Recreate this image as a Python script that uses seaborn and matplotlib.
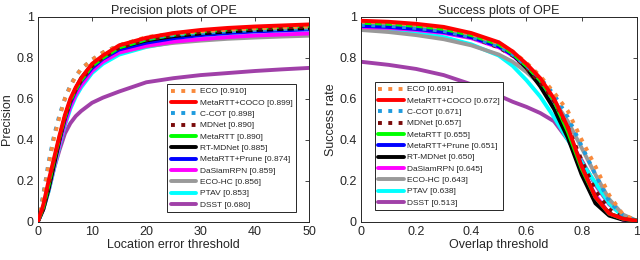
import numpy as np
import pandas as pd
import matplotlib
matplotlib.use('Agg')
import matplotlib.pyplot as plt
import seaborn as sns
from matplotlib.ticker import FormatStrFormatter

sns.set_style('white')
plt.rcParams['font.family'] = ['Liberation Sans', 'DejaVu Sans']

# precision plot
prec_names = ['ECO', 'MetaRTT+COCO', 'C-COT', 'MDNet', 'MetaRTT', 'RT-MDNet',
              'MetaRTT+Prune', 'DaSiamRPN', 'ECO-HC', 'PTAV', 'DSST']
prec_scores = [0.910, 0.899, 0.898, 0.890, 0.890, 0.885, 0.874, 0.859, 0.856, 0.853, 0.680]
prec_thr = [0, 1, 2, 3, 4, 5, 6, 7, 8, 10, 12, 15, 20, 25, 30, 35, 40, 45, 50]
prec_vals = {
    'ECO':           [0, 0.12, 0.28, 0.41, 0.51, 0.60, 0.66, 0.71, 0.745, 0.79, 0.825, 0.86, 0.90, 0.918, 0.928, 0.936, 0.942, 0.947, 0.951],
    'MetaRTT+COCO':  [0, 0.08, 0.20, 0.31, 0.42, 0.52, 0.60, 0.655, 0.70, 0.77, 0.81, 0.86, 0.897, 0.92, 0.935, 0.945, 0.952, 0.957, 0.962],
    'C-COT':         [0, 0.13, 0.29, 0.42, 0.52, 0.60, 0.665, 0.71, 0.745, 0.79, 0.825, 0.86, 0.895, 0.91, 0.92, 0.928, 0.934, 0.939, 0.943],
    'MDNet':         [0, 0.07, 0.18, 0.30, 0.41, 0.51, 0.59, 0.645, 0.69, 0.76, 0.80, 0.848, 0.888, 0.91, 0.925, 0.935, 0.942, 0.947, 0.952],
    'MetaRTT':       [0, 0.07, 0.18, 0.30, 0.41, 0.51, 0.59, 0.645, 0.69, 0.76, 0.80, 0.85, 0.889, 0.912, 0.927, 0.937, 0.944, 0.95, 0.955],
    'RT-MDNet':      [0, 0.06, 0.16, 0.28, 0.40, 0.51, 0.59, 0.65, 0.70, 0.765, 0.805, 0.85, 0.884, 0.905, 0.918, 0.928, 0.935, 0.94, 0.945],
    'MetaRTT+Prune': [0, 0.07, 0.17, 0.29, 0.40, 0.50, 0.58, 0.64, 0.685, 0.75, 0.795, 0.84, 0.873, 0.895, 0.91, 0.92, 0.928, 0.933, 0.938],
    'DaSiamRPN':     [0, 0.06, 0.16, 0.27, 0.38, 0.48, 0.56, 0.62, 0.665, 0.735, 0.78, 0.825, 0.858, 0.878, 0.89, 0.90, 0.908, 0.913, 0.918],
    'ECO-HC':        [0, 0.07, 0.18, 0.29, 0.40, 0.50, 0.58, 0.64, 0.685, 0.745, 0.785, 0.825, 0.855, 0.872, 0.883, 0.892, 0.898, 0.903, 0.907],
    'PTAV':          [0, 0.06, 0.15, 0.26, 0.37, 0.47, 0.55, 0.61, 0.655, 0.725, 0.77, 0.815, 0.852, 0.875, 0.89, 0.90, 0.907, 0.912, 0.916],
    'DSST':          [0, 0.06, 0.15, 0.26, 0.35, 0.43, 0.48, 0.515, 0.54, 0.58, 0.605, 0.635, 0.68, 0.70, 0.715, 0.725, 0.735, 0.743, 0.75],
}

# success plot
succ_names = ['ECO', 'MetaRTT+COCO', 'C-COT', 'MDNet', 'MetaRTT', 'MetaRTT+Prune',
              'RT-MDNet', 'DaSiamRPN', 'ECO-HC', 'PTAV', 'DSST']
succ_scores = [0.691, 0.672, 0.671, 0.657, 0.655, 0.651, 0.650, 0.645, 0.643, 0.638, 0.513]
succ_thr = [0, 0.1, 0.2, 0.3, 0.4, 0.5, 0.55, 0.6, 0.65, 0.7, 0.75, 0.8, 0.85, 0.9, 0.95, 1.0]
succ_vals = {
    'ECO':           [0.975, 0.97, 0.96, 0.945, 0.915, 0.87, 0.83, 0.775, 0.71, 0.63, 0.54, 0.40, 0.27, 0.13, 0.035, 0.005],
    'MetaRTT+COCO':  [0.98, 0.975, 0.965, 0.95, 0.92, 0.875, 0.83, 0.77, 0.70, 0.60, 0.46, 0.27, 0.12, 0.04, 0.015, 0.005],
    'C-COT':         [0.96, 0.955, 0.945, 0.93, 0.90, 0.855, 0.815, 0.76, 0.70, 0.62, 0.51, 0.37, 0.23, 0.10, 0.03, 0.005],
    'MDNet':         [0.965, 0.96, 0.95, 0.93, 0.90, 0.85, 0.81, 0.75, 0.68, 0.59, 0.46, 0.30, 0.15, 0.06, 0.02, 0.005],
    'MetaRTT':       [0.97, 0.965, 0.955, 0.94, 0.91, 0.865, 0.82, 0.76, 0.69, 0.59, 0.44, 0.26, 0.12, 0.04, 0.015, 0.005],
    'MetaRTT+Prune': [0.955, 0.95, 0.94, 0.925, 0.90, 0.855, 0.815, 0.76, 0.69, 0.59, 0.45, 0.27, 0.12, 0.04, 0.015, 0.005],
    'RT-MDNet':      [0.96, 0.955, 0.945, 0.93, 0.905, 0.86, 0.815, 0.75, 0.66, 0.55, 0.41, 0.23, 0.09, 0.03, 0.01, 0.005],
    'DaSiamRPN':     [0.95, 0.945, 0.935, 0.92, 0.895, 0.85, 0.81, 0.755, 0.68, 0.58, 0.43, 0.25, 0.13, 0.04, 0.01, 0.003],
    'ECO-HC':        [0.935, 0.925, 0.91, 0.89, 0.86, 0.815, 0.78, 0.73, 0.67, 0.59, 0.49, 0.36, 0.23, 0.11, 0.035, 0.005],
    'PTAV':          [0.95, 0.94, 0.925, 0.90, 0.865, 0.81, 0.76, 0.69, 0.61, 0.51, 0.40, 0.29, 0.19, 0.09, 0.025, 0.005],
    'DSST':          [0.78, 0.765, 0.745, 0.715, 0.67, 0.615, 0.585, 0.56, 0.53, 0.49, 0.40, 0.30, 0.18, 0.085, 0.03, 0.003],
}

colors = {
    'ECO': '#F98A3C', 'MetaRTT+COCO': '#FF0000', 'C-COT': '#1E9BDE', 'MDNet': '#7A0A0A',
    'MetaRTT': '#00FF00', 'RT-MDNet': '#000000', 'MetaRTT+Prune': '#0000FF',
    'DaSiamRPN': '#FF00FF', 'ECO-HC': '#999999', 'PTAV': '#00FFFF', 'DSST': '#A040A8',
}
dotted = ['ECO', 'C-COT', 'MDNet']


def draw(ax, thr, vals, names, scores):
    handles = {}
    for name in names[::-1]:
        df = pd.DataFrame({'x': thr, 'y': vals[name]})
        z = 3 if name == 'MetaRTT+COCO' else 2
        sns.lineplot(data=df, x='x', y='y', ax=ax, color=colors[name], lw=2.8,
                     linestyle=':' if name in dotted else '-', zorder=z)
        handles[name] = ax.lines[-1]
    h = [handles[n] for n in names]
    lab = [f'{n} [{s:.3f}]' for n, s in zip(names, scores)]
    return h, lab


legend_kw = dict(loc='lower left', fontsize=6, labelspacing=0.42, handlelength=3.1,
                 handletextpad=0.4, borderpad=0.4, borderaxespad=0, fancybox=False,
                 framealpha=1)

fig, (ax1, ax2) = plt.subplots(1, 2, figsize=(6.4, 2.6), dpi=100)
ax1.set_position([0.059, 0.147, 0.424, 0.789])
ax2.set_position([0.564, 0.147, 0.431, 0.789])

h, lab = draw(ax1, prec_thr, prec_vals, prec_names, prec_scores)
ax1.set_xlim(0, 50)
ax1.set_xticks([0, 10, 20, 30, 40, 50])
ax1.set_title('Precision plots of OPE', fontsize=9, pad=2)
ax1.set_xlabel('Location error threshold', fontsize=9, labelpad=1)
ax1.set_ylabel('Precision', fontsize=9, labelpad=2)
leg1 = ax1.legend(h, lab, bbox_to_anchor=(0.477, 0.047), **legend_kw)

h, lab = draw(ax2, succ_thr, succ_vals, succ_names, succ_scores)
ax2.set_xlim(0, 1)
ax2.set_xticks([0, 0.2, 0.4, 0.6, 0.8, 1])
ax2.set_title('Success plots of OPE', fontsize=9, pad=2)
ax2.set_xlabel('Overlap threshold', fontsize=9, labelpad=1)
ax2.set_ylabel('Success rate', fontsize=9, labelpad=2)
leg2 = ax2.legend(h, lab, bbox_to_anchor=(0.05, 0.057), **legend_kw)

for ax, leg in [(ax1, leg1), (ax2, leg2)]:
    ax.set_ylim(0, 1)
    ax.set_yticks([0, 0.2, 0.4, 0.6, 0.8, 1])
    ax.xaxis.set_major_formatter(FormatStrFormatter('%g'))
    ax.yaxis.set_major_formatter(FormatStrFormatter('%g'))
    ax.tick_params(direction='in', length=3, width=0.6, top=True, right=True,
                   labelsize=9, colors='#262626', pad=3)
    for s in ax.spines.values():
        s.set_linewidth(0.7)
        s.set_color('#262626')
    leg.get_frame().set_edgecolor('#262626')
    leg.get_frame().set_linewidth(0.7)

fig.savefig('out.png', dpi=100)
